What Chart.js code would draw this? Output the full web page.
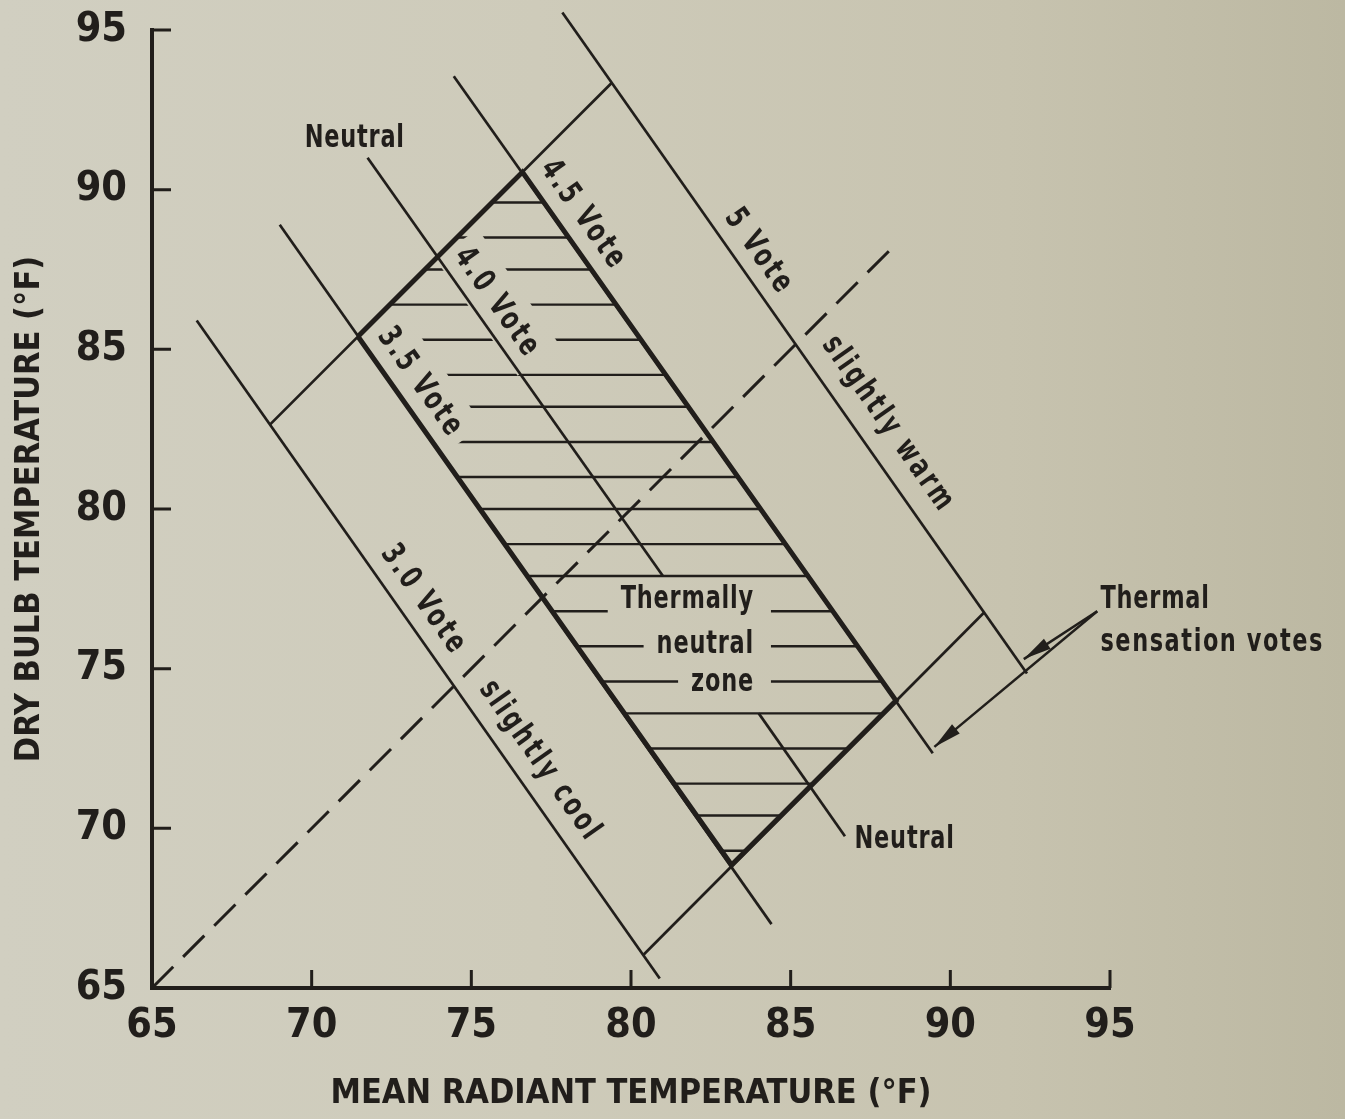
<!DOCTYPE html>
<html>
<head>
<meta charset="utf-8">
<title>Thermally neutral zone</title>
<script src="https://cdn.jsdelivr.net/npm/chart.js@4.4.1/dist/chart.umd.min.js"></script>
<style>
  html, body { margin: 0; padding: 0; }
  body {
    width: 1345px; height: 1119px; overflow: hidden;
    background: linear-gradient(90deg, #d1cfc1 0%, #cecbba 40%, #c7c3af 75%, #bcb8a2 100%);
  }
</style>
</head>
<body>
<canvas id="chart" width="1345" height="1119"></canvas>
<script>
// tick values on both axes (deg F)
const tickValues = [65, 70, 75, 80, 85, 90, 95];

// thermal sensation vote lines, [MRT, DBT] end points
const vote30 = [[66.4, 85.9], [80.9, 65.3]];
const vote35 = [[69.0, 88.9], [84.4, 67.0]];
const vote40a = [[71.75, 91.0], [81.0, 77.9]];   // neutral line, above the zone text
const vote40b = [[84.0, 73.6], [86.7, 69.75]];   // neutral line, below the zone text
const vote45 = [[74.45, 93.55], [89.45, 72.35]];
const vote50 = [[77.85, 95.55], [92.4, 74.85]];

// cross lines closing the band
const upperEdge = [[68.7, 82.65], [79.4, 93.35]];
const lowerEdge = [[80.4, 66.05], [91.05, 76.75]];

// thermally neutral zone outline
const zoneOutline = [[71.45, 85.4], [76.6, 90.55], [88.3, 74.0], [83.15, 68.85], [71.45, 85.4]];

// MRT = DBT
const equalLine = [[65, 65], [88.3, 88.3]];

// hatching inside the zone
const hatchY =    [89.6, 88.5, 87.5, 86.4, 85.3, 84.2, 83.2, 82.1, 81.0, 80.0, 78.9, 77.9, 76.8, 75.7, 74.6, 73.6, 72.5, 71.4, 70.4, 69.3];
const hatchFrom = [75.6, 74.6, 73.5, 72.4, 71.5, 72.3, 73.0, 73.8, 74.6, 75.3, 76.1, 76.8, 77.5, 78.3, 79.1, 79.8, 80.6, 81.3, 82.1, 82.8];
const hatchTo =   [77.3, 78.0, 78.8, 79.5, 80.3, 81.1, 81.8, 82.6, 83.4, 84.1, 84.9, 85.6, 86.3, 87.1, 87.9, 87.9, 86.8, 85.7, 84.7, 83.6];

// pointers from the "Thermal sensation votes" note
const arrow1 = [[94.6, 76.8], [92.3, 75.3]];
const arrow2 = [[94.6, 76.8], [89.5, 72.55]];

const ink = "#211e1b";
const condensed = "'DejaVu Sans Condensed', 'Liberation Sans Narrow', sans-serif";
const squeeze = 0.78;   // the printed lettering is narrower than any installed face

const lineLabels = [
    { text: "3.0 Vote", at: [73.5, 77.15], along: vote30 },
    { text: "slightly cool", at: [77.15, 72.1], along: vote30 },
    { text: "3.5 Vote", at: [73.4, 83.95], along: vote35, cut: true },
    { text: "4.0 Vote", at: [75.8, 86.45], along: vote40a, cut: true },
    { text: "4.5 Vote", at: [78.5, 89.2], along: vote45 },
    { text: "5 Vote", at: [84.0, 88.05], along: vote50 },
    { text: "slightly warm", at: [88.05, 82.65], along: vote50 }
];

const flatLabels = [
    { text: "Neutral", at: [71.35, 91.6], align: "center" },
    { text: "Neutral", at: [87.0, 69.65], align: "left" },
    { text: "Thermally", at: [83.85, 77.15], align: "right", cut: true },
    { text: "neutral", at: [83.85, 75.75], align: "right", cut: true },
    { text: "zone", at: [83.85, 74.55], align: "right", cut: true },
    { text: "Thermal", at: [94.7, 77.15], align: "left" },
    { text: "sensation votes", at: [94.7, 75.8], align: "left", spacing: 2 }
];

function toPts(seg) {
    return seg.map(p => ({ x: p[0], y: p[1] }));
}

function lineSet(id, seg, width, dash) {
    return {
        id: id,
        data: toPts(seg),
        showLine: true,
        borderColor: ink,
        borderWidth: width,
        borderDash: dash || [],
        pointRadius: 0,
        clip: false
    };
}

const hatchPts = [];
hatchY.forEach((y, i) => {
    hatchPts.push({ x: hatchFrom[i], y: y }, { x: hatchTo[i], y: y }, { x: null, y: null });
});

function toPx(chart, p) {
    return [chart.scales.x.getPixelForValue(p[0]), chart.scales.y.getPixelForValue(p[1])];
}

function angleOf(chart, seg) {
    const a = toPx(chart, seg[0]);
    const b = toPx(chart, seg[seg.length - 1]);
    return Math.atan2(b[1] - a[1], b[0] - a[0]);
}

function setLabelFont(ctx, spacing) {
    ctx.font = "bold 32px " + condensed;
    ctx.letterSpacing = spacing + "px";
}

// erase the hatching under the labels that sit inside the zone
function cutHatch(chart) {
    const ctx = chart.ctx;
    ctx.save();
    ctx.globalCompositeOperation = "destination-out";
    ctx.fillStyle = "#000";
    setLabelFont(ctx, 3.5);
    lineLabels.filter(l => l.cut).forEach(l => {
        const [x, y] = toPx(chart, l.at);
        const w = ctx.measureText(l.text).width * squeeze;
        ctx.save();
        ctx.translate(x, y);
        ctx.rotate(angleOf(chart, l.along));
        ctx.fillRect(-w / 2 - 8, -27, w + 16, 52);
        ctx.restore();
    });
    setLabelFont(ctx, 1);
    flatLabels.filter(l => l.cut).forEach(l => {
        const [x, y] = toPx(chart, l.at);
        const w = ctx.measureText(l.text).width * squeeze;
        ctx.fillRect(x - w - 13, y - 16, w + 30, 32);
    });
    ctx.restore();
}

function drawArrowHead(ctx, from, to) {
    const ang = Math.atan2(to[1] - from[1], to[0] - from[0]);
    ctx.save();
    ctx.translate(to[0], to[1]);
    ctx.rotate(ang);
    ctx.beginPath();
    ctx.moveTo(0, 0);
    ctx.lineTo(-28, -6);
    ctx.lineTo(-28, 6);
    ctx.closePath();
    ctx.fill();
    ctx.restore();
}

const annotations = {
    id: "annotations",
    beforeDatasetsDraw(chart) {
        // tick marks point into the plot
        const ctx = chart.ctx;
        const area = chart.chartArea;
        ctx.save();
        ctx.strokeStyle = ink;
        ctx.lineWidth = 3;
        tickValues.forEach(v => {
            const x = chart.scales.x.getPixelForValue(v);
            const y = chart.scales.y.getPixelForValue(v);
            ctx.beginPath();
            ctx.moveTo(x, area.bottom);
            ctx.lineTo(x, area.bottom - 18);
            ctx.moveTo(area.left, y);
            ctx.lineTo(area.left + 19, y);
            ctx.stroke();
        });
        ctx.restore();
    },
    afterDatasetDraw(chart, args) {
        if (chart.data.datasets[args.index].id === "hatch") {
            cutHatch(chart);
        }
    },
    afterDatasetsDraw(chart) {
        const ctx = chart.ctx;
        ctx.save();
        ctx.fillStyle = ink;
        ctx.textBaseline = "middle";
        setLabelFont(ctx, 3.5);
        lineLabels.forEach(l => {
            const [x, y] = toPx(chart, l.at);
            ctx.save();
            ctx.translate(x, y);
            ctx.rotate(angleOf(chart, l.along));
            ctx.scale(squeeze, 1);
            ctx.textAlign = "center";
            ctx.fillText(l.text, 0, 0);
            ctx.restore();
        });
        flatLabels.forEach(l => {
            const [x, y] = toPx(chart, l.at);
            setLabelFont(ctx, l.spacing || 1);
            ctx.save();
            ctx.translate(x, y);
            ctx.scale(squeeze, 1);
            ctx.textAlign = l.align;
            ctx.fillText(l.text, 0, 0);
            ctx.restore();
        });
        [arrow1, arrow2].forEach(a => {
            drawArrowHead(ctx, toPx(chart, a[0]), toPx(chart, a[1]));
        });
        ctx.restore();
    }
};

const tickFont = { family: condensed, size: 41, weight: "bold", lineHeight: 1.2 };
const titleFont = { family: condensed, size: 34, weight: "bold", lineHeight: 1.2 };

new Chart(document.getElementById("chart").getContext("2d"), {
    type: "scatter",
    data: {
        datasets: [
            lineSet("arrow1", arrow1, 2.5),
            lineSet("arrow2", arrow2, 2.5),
            lineSet("zone", zoneOutline, 5),
            lineSet("v30", vote30, 2.7),
            lineSet("v35", vote35, 2.7),
            lineSet("v40a", vote40a, 2.7),
            lineSet("v40b", vote40b, 2.7),
            lineSet("v45", vote45, 2.7),
            lineSet("v50", vote50, 2.7),
            lineSet("upper", upperEdge, 2.7),
            lineSet("lower", lowerEdge, 2.7),
            lineSet("equal", equalLine, 3, [30, 14]),
            {
                id: "hatch",
                data: hatchPts,
                showLine: true,
                spanGaps: false,
                borderColor: ink,
                borderWidth: 2.4,
                pointRadius: 0,
                clip: false
            }
        ]
    },
    options: {
        responsive: false,
        animation: false,
        events: [],
        layout: { padding: { left: 0, right: 235, top: 30, bottom: 0 } },
        plugins: {
            legend: { display: false },
            tooltip: { enabled: false }
        },
        scales: {
            x: {
                type: "linear",
                min: 65,
                max: 95,
                afterFit: s => { s.height = 131; s.paddingLeft = 0; s.paddingRight = 0; },
                afterBuildTicks: s => { s.ticks = tickValues.map(v => ({ value: v })); },
                ticks: { color: ink, font: tickFont, padding: 14, maxRotation: 0 },
                grid: { display: false, drawTicks: false },
                border: { display: true, color: ink, width: 4 },
                title: {
                    display: true,
                    text: "MEAN RADIANT TEMPERATURE (°F)",
                    color: ink,
                    font: titleFont,
                    padding: { top: 0, bottom: 4 }
                }
            },
            y: {
                type: "linear",
                min: 65,
                max: 95,
                afterFit: s => { s.width = 152; s.paddingTop = 0; s.paddingBottom = 0; },
                afterBuildTicks: s => { s.ticks = tickValues.map(v => ({ value: v })); },
                ticks: { color: ink, font: tickFont, padding: 25 },
                grid: { display: false, drawTicks: false },
                border: { display: true, color: ink, width: 4 },
                title: {
                    display: true,
                    text: "DRY BULB TEMPERATURE (°F)",
                    color: ink,
                    font: titleFont,
                    padding: { top: 10, bottom: 0 }
                }
            }
        }
    },
    plugins: [annotations]
});
</script>
</body>
</html>
